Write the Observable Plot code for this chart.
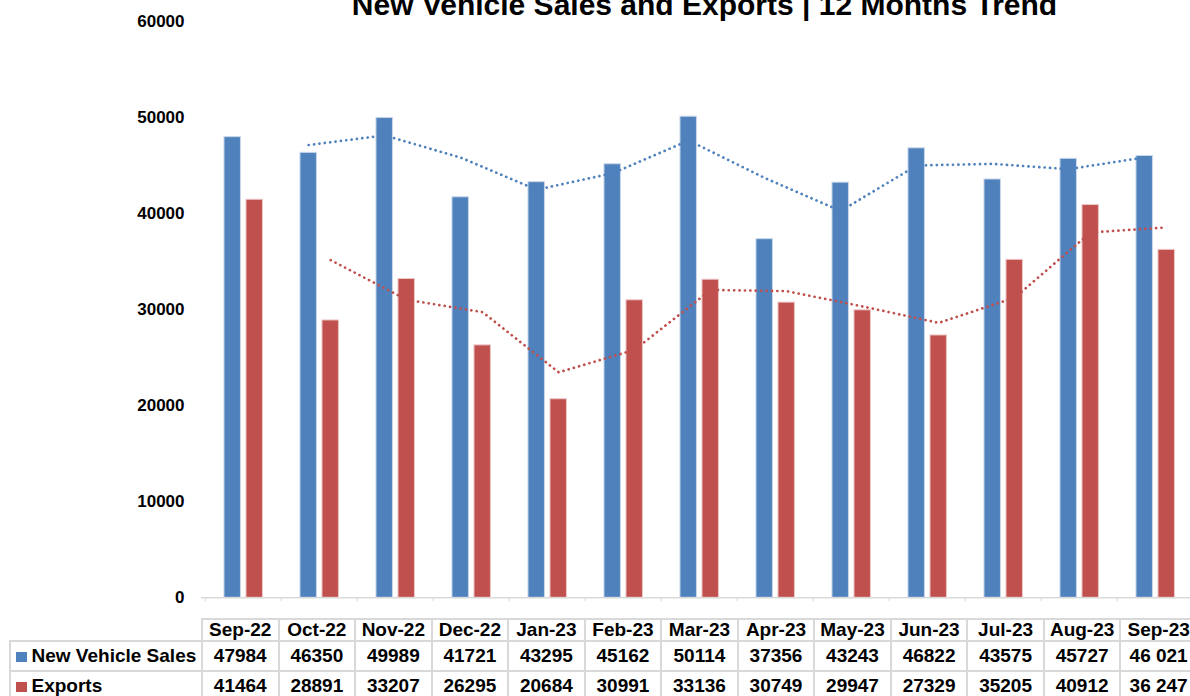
<!DOCTYPE html>
<html>
<head>
<meta charset="utf-8">
<script src="https://cdn.jsdelivr.net/npm/d3@7"></script>
<script src="https://cdn.jsdelivr.net/npm/@observablehq/plot@0.6"></script>
<style>
  html, body { margin: 0; padding: 0; background: #fff; }
  #wrap { position: relative; width: 1190px; height: 696px; overflow: hidden; font-family: Arial, "Liberation Sans", sans-serif; }
  #title { position: absolute; left: 0; width: 1409px; top: -10.5px; text-align: center; font-weight: bold; font-size: 30px; line-height: 30px; color: #000; white-space: nowrap; }
  #chart { position: absolute; left: 0; top: 0; }
  #chart svg { overflow: visible; }
  #chart svg text { font-family: Arial, "Liberation Sans", sans-serif; }
  table.dt { position: absolute; left: 9px; top: 618px; border-collapse: collapse; table-layout: fixed; font: bold 19px Arial, "Liberation Sans", sans-serif; color: #000; }
  table.dt td { border: 2px solid #d9d9d9; text-align: center; padding: 0; white-space: nowrap; overflow: hidden; }
  table.dt tr.h td { height: 20px; line-height: 20px; }
  table.dt tr.r td { height: 28px; line-height: 28px; }
  table.dt td.lab { text-align: left; padding-left: 5px; }
  table.dt td.blank { border-top: none; border-left: none; }
  .sq { display: inline-block; width: 10.5px; height: 10.5px; margin-right: 5px; vertical-align: 0px; }
</style>
</head>
<body>
<div id="wrap">
  <div id="chart"></div>
  <div id="title">New Vehicle Sales and Exports | 12 Months Trend</div>
</div>
<script>
// ---- data ----
const months = ["Sep-22","Oct-22","Nov-22","Dec-22","Jan-23","Feb-23","Mar-23","Apr-23","May-23","Jun-23","Jul-23","Aug-23","Sep-23"];
const sales = [47984, 46350, 49989, 41721, 43295, 45162, 50114, 37356, 43243, 46822, 43575, 45727, 46021];
const exportsV = [41464, 28891, 33207, 26295, 20684, 30991, 33136, 30749, 29947, 27329, 35205, 40912, 36247];
const salesText = ["47984","46350","49989","41721","43295","45162","50114","37356","43243","46822","43575","45727","46 021"];
const exportsText = ["41464","28891","33207","26295","20684","30991","33136","30749","29947","27329","35205","40912","36 247"];
const seriesNames = ["New Vehicle Sales", "Exports"];
const yTicks = [0, 10000, 20000, 30000, 40000, 50000, 60000];

const blue = "#4F81BD";
const red = "#C0504D";

const data = months.map((m, i) => ({month: m, sales: sales[i], exports: exportsV[i]}));

// ---- layout ----
const x0 = 201, x1 = 1196;
const bw = (x1 - x0) / months.length;
const H = 616;

const chart = Plot.plot({
  width: 1190,
  height: H,
  marginTop: 21.3,
  marginBottom: H - 597.3,
  marginLeft: x0,
  marginRight: 0,
  style: {background: "#fff", color: "#000", fontFamily: "Arial, 'Liberation Sans', sans-serif"},
  x: {type: "band", domain: months, range: [x0, x1], padding: 0, axis: null, label: null},
  y: {domain: [0, 60000], axis: null, label: null},
  marks: [
    Plot.barY(data, {x: "month", y: "sales", fill: blue, stroke: "#c9d7ea", strokeWidth: 1,
      insetLeft: bw / 2 - 19.3, insetRight: bw / 2 + 2.3}),
    Plot.barY(data, {x: "month", y: "exports", fill: red, stroke: "#edc9c8", strokeWidth: 1,
      insetLeft: bw / 2 + 2.7, insetRight: bw / 2 - 19.7}),
    Plot.ruleY([0], {stroke: "#d9d9d9", strokeWidth: 1.5}),
    Plot.axisX({anchor: "bottom", label: null, tickSize: 4, stroke: "#d9d9d9", tickFormat: () => "", dx: -bw / 2}),
    Plot.lineY(data, Plot.windowY({k: 2, anchor: "end", strict: true},
      {x: "month", y: "sales", stroke: blue, strokeWidth: 2.7, strokeDasharray: "0.1 5.3", strokeLinecap: "round", dx: -10.8})),
    Plot.lineY(data, Plot.windowY({k: 2, anchor: "end", strict: true},
      {x: "month", y: "exports", stroke: red, strokeWidth: 2.7, strokeDasharray: "0.1 5.3", strokeLinecap: "round", dx: 11.2})),
    Plot.axisY(yTicks, {anchor: "left", label: null, tickSize: 0, tickPadding: 17, tickFormat: d3.format("d"),
      fontSize: 17, fontWeight: "bold", fill: "#000"})
  ]
});
document.getElementById("chart").appendChild(chart);

// ---- data table (acts as x axis + legend) ----
const table = document.createElement("table");
table.className = "dt";
const colgroup = document.createElement("colgroup");
const c0 = document.createElement("col"); c0.style.width = (x0 - 9) + "px"; colgroup.appendChild(c0);
months.forEach(() => { const c = document.createElement("col"); c.style.width = bw + "px"; colgroup.appendChild(c); });
table.appendChild(colgroup);
table.style.width = (x1 - 9) + "px";

const hr = document.createElement("tr"); hr.className = "h";
const blank = document.createElement("td"); blank.className = "blank"; hr.appendChild(blank);
months.forEach(m => { const td = document.createElement("td"); td.textContent = m; hr.appendChild(td); });
table.appendChild(hr);

[[seriesNames[0], blue, salesText], [seriesNames[1], red, exportsText]].forEach(([name, col, vals]) => {
  const tr = document.createElement("tr"); tr.className = "r";
  const lab = document.createElement("td"); lab.className = "lab";
  const sq = document.createElement("span"); sq.className = "sq"; sq.style.background = col;
  lab.appendChild(sq); lab.appendChild(document.createTextNode(name));
  tr.appendChild(lab);
  vals.forEach(v => { const td = document.createElement("td"); td.textContent = v; tr.appendChild(td); });
  table.appendChild(tr);
});
document.getElementById("wrap").appendChild(table);
</script>
</body>
</html>
